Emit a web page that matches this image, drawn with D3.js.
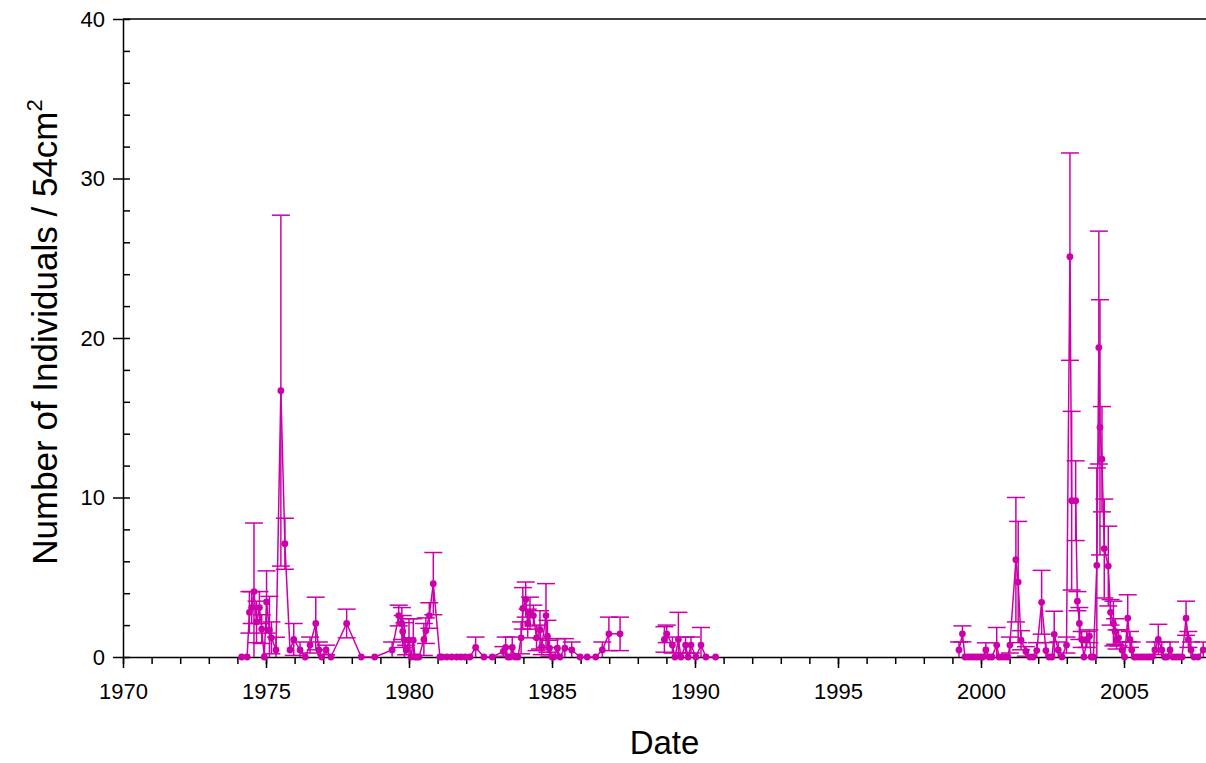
<!DOCTYPE html>
<html>
<head>
<meta charset="utf-8">
<script src="https://cdn.jsdelivr.net/npm/d3@7"></script>
<style>
  body { margin: 0; background: #fff; }
  svg { display: block; }
  text { font-family: "Liberation Sans", Arial, sans-serif; fill: #000; }
</style>
</head>
<body>
<svg id="chart" width="1206" height="763"></svg>
<script>
// Sampling dates (decimal years)
const dates = [
  1974.15, 1974.34, 1974.42, 1974.50, 1974.58, 1974.67, 1974.77, 1974.85, 1974.94, 1975.02,
  1975.12, 1975.19, 1975.35, 1975.52, 1975.66, 1975.84, 1975.97, 1976.19, 1976.37, 1976.54,
  1976.74, 1976.85, 1976.95, 1977.10, 1977.27, 1977.82, 1978.33, 1978.80, 1979.41, 1979.64,
  1979.75, 1979.78, 1979.84, 1979.90, 1980.00, 1980.07, 1980.15, 1980.21, 1980.28, 1980.35,
  1980.52, 1980.59, 1980.71, 1980.85, 1981.08, 1981.15, 1981.32, 1981.49, 1981.67, 1981.81,
  1981.96, 1982.13, 1982.33, 1982.62, 1982.91, 1983.30, 1983.38, 1983.46, 1983.53, 1983.61,
  1983.71, 1983.81, 1983.92, 1983.98, 1984.08, 1984.15, 1984.23, 1984.35, 1984.46, 1984.58,
  1984.64, 1984.79, 1984.84, 1984.91, 1985.00, 1985.07, 1985.19, 1985.28, 1985.45, 1985.69,
  1985.98, 1986.23, 1986.53, 1986.76, 1986.99, 1987.38, 1988.93, 1989.01, 1989.21, 1989.30,
  1989.42, 1989.51, 1989.67, 1989.76, 1989.86, 1990.03, 1990.21, 1990.38, 1990.72,
  1999.23, 1999.35, 1999.44, 1999.55, 1999.65, 1999.76, 1999.86, 1999.97, 2000.07, 2000.17,
  2000.28, 2000.38, 2000.55, 2000.63, 2000.73, 2000.84, 2000.94, 2001.01, 2001.22, 2001.30,
  2001.40, 2001.57, 2001.71, 2001.82, 2001.95, 2002.12, 2002.27, 2002.38, 2002.48, 2002.56,
  2002.70, 2002.83, 2002.99, 2003.11, 2003.17, 2003.31, 2003.37, 2003.44, 2003.52, 2003.60,
  2003.70, 2003.79, 2003.85, 2003.93, 2004.05, 2004.12, 2004.16, 2004.23, 2004.31, 2004.45,
  2004.53, 2004.63, 2004.69, 2004.74, 2004.81, 2004.93, 2005.02, 2005.13, 2005.21, 2005.27,
  2005.36, 2005.45, 2005.56, 2005.66, 2005.77, 2005.87, 2005.98, 2006.08, 2006.20, 2006.32,
  2006.42, 2006.50, 2006.61, 2006.71, 2006.82, 2006.92, 2007.03, 2007.17, 2007.25, 2007.34,
  2007.45, 2007.59, 2007.77
];

// Mean number of individuals per 54 cm²
const means = [
  0, 0, 2.8, 3.1, 4.1, 2.2, 3.1, 1.75, 0, 3.45,
  1.7, 1.2, 0.44, 16.7, 7.1, 0.44, 1.1, 0.44, 0, 0.75,
  2.1, 0.44, 0, 0.44, 0, 2.1, 0, 0, 0.44, 2.6,
  2.1, 1.6, 1.05, 0.44, 1.05, 0, 1.05, 0, 0, 0,
  1.1, 1.65, 2.6, 4.6, 0, 0, 0, 0, 0, 0,
  0, 0, 0.6, 0, 0, 0.35, 0.6, 0, 0, 0.6,
  0, 0, 1.2, 3.05, 3.6, 2.1, 2.75, 2.6, 1.2, 1.7,
  0.65, 2.6, 1.3, 0.55, 0, 0, 0.55, 0, 0.55, 0.44,
  0, 0, 0, 0.44, 1.45, 1.45, 1.1, 1.45, 0.75, 0,
  1.1, 0, 0.75, 0, 0.75, 0, 0.75, 0, 0,
  0.44, 1.45, 0, 0, 0, 0, 0, 0, 0, 0.44,
  0, 0, 0.75, 0, 0, 0, 0, 0.75, 6.1, 4.7,
  1.05, 0.35, 0, 0, 0.4, 3.43, 0.4, 0, 0, 1.42,
  0.44, 0, 0.75, 25.1, 9.8, 9.8, 3.5, 2.1, 1.1, 0,
  1.1, 1.3, 0, 0, 5.75, 19.4, 14.4, 12.4, 6.8, 5.7,
  2.8, 2.1, 1.6, 1.1, 1.2, 0.44, 0, 2.43, 1.1, 0.44,
  0, 0, 0, 0, 0, 0, 0, 0.44, 1.1, 0.44,
  0, 0, 0.44, 0, 0, 0, 0, 2.43, 1.1, 0.44,
  0, 0, 0.44
];

// Standard deviation of each mean
const errors = [
  0, 0, 1.3, 1.0, 4.3, 1.3, 1.0, 0.9, 0, 1.95,
  2.1, 1.0, 0.8, 11.0, 1.6, 0, 1.0, 0.5, 0, 0.5,
  1.65, 0.5, 0, 0.3, 0, 0.9, 0, 0, 0.5, 0.65,
  1.0, 1.0, 1.1, 0.3, 1.35, 0, 1.35, 0, 0, 0,
  1.0, 0.8, 0.8, 1.95, 0, 0, 0, 0, 0, 0,
  0, 0, 0.65, 0, 0, 0.3, 0.65, 0, 0, 0.65,
  0, 0, 1.0, 1.3, 1.1, 0.9, 1.0, 0.65, 0.8, 1.2,
  0.5, 2.0, 1.0, 0.5, 0, 0, 0.6, 0, 0.6, 0.5,
  0, 0, 0, 0.5, 1.05, 1.05, 0.8, 0.55, 0.5, 0,
  1.7, 0, 0.5, 0, 0.5, 0, 1.1, 0, 0,
  0.5, 0.5, 0, 0, 0, 0, 0, 0, 0, 0.45,
  0, 0, 1.1, 0, 0, 0, 0, 0.5, 3.9, 3.8,
  0.6, 0.3, 0, 0, 0.5, 2.0, 0.5, 0, 0, 1.45,
  0.5, 0, 0.5, 6.5, 5.6, 2.5, 0.6, 1.0, 0.5, 0,
  0.5, 0.4, 0, 0, 6.1, 7.3, 8.0, 3.3, 3.1, 2.5,
  0.8, 1.4, 0.8, 0.6, 0.5, 0.5, 0, 1.47, 0.5, 0.5,
  0, 0, 0, 0, 0, 0, 0, 0.5, 0.95, 0.5,
  0, 0, 0.5, 0, 0, 0, 0, 1.07, 0.5, 0.5,
  0, 0, 0.5
];

const xTickValues = [1970, 1975, 1980, 1985, 1990, 1995, 2000, 2005];
const yTickValues = [0, 10, 20, 30, 40];

const color = "#cc00aa";
const svg = d3.select("#chart");

const x = d3.scaleLinear().domain([1970, 2008]).range([123, 1209.8]);
const y = d3.scaleLinear().domain([0, 40]).range([657, 19]);

const points = dates.map((d, i) => ({ date: d, mean: means[i], err: errors[i] }));

// ----- axes -----
const axes = svg.append("g");

// minor x ticks every year
axes.append("g")
  .attr("transform", `translate(0,${y(0)})`)
  .call(d3.axisBottom(x).tickValues(d3.range(1970, 2008)).tickSize(7).tickFormat(""))
  .call(g => g.select(".domain").remove())
  .call(g => g.selectAll("line").attr("stroke-width", 1.5));

// major x ticks with labels
axes.append("g")
  .attr("transform", `translate(0,${y(0)})`)
  .call(d3.axisBottom(x).tickValues(xTickValues).tickSize(11).tickSizeOuter(0).tickPadding(15).tickFormat(d3.format("d")))
  .call(g => g.select(".domain").attr("stroke-width", 1.5))
  .call(g => g.selectAll("line").attr("stroke-width", 1.5))
  .call(g => g.selectAll("text").attr("font-size", 22).attr("fill", "#000"));

// minor y ticks every 2 units, pointing into the plot
axes.append("g")
  .attr("transform", `translate(${x(1970)},0)`)
  .call(d3.axisLeft(y).tickValues(d3.range(0, 41, 2)).tickSize(-7).tickFormat(""))
  .call(g => g.select(".domain").remove())
  .call(g => g.selectAll("line").attr("stroke-width", 1.5));

// major y ticks with labels
axes.append("g")
  .attr("transform", `translate(${x(1970)},0)`)
  .call(d3.axisLeft(y).tickValues(yTickValues).tickSize(10).tickSizeOuter(0).tickPadding(8))
  .call(g => g.select(".domain").attr("stroke-width", 1.5))
  .call(g => g.selectAll("line").attr("stroke-width", 1.5))
  .call(g => g.selectAll("text").attr("font-size", 22).attr("fill", "#000"));

// top frame line
axes.append("line")
  .attr("x1", x(1970)).attr("x2", x(2008))
  .attr("y1", y(40)).attr("y2", y(40))
  .attr("stroke", "#000").attr("stroke-width", 1.5);

// axis titles
svg.append("text")
  .attr("x", (x(1970) + 1206) / 2).attr("y", 754)
  .attr("text-anchor", "middle")
  .attr("font-size", 33)
  .text("Date");

const yTitle = svg.append("text")
  .attr("transform", `translate(57,332) rotate(-90)`)
  .attr("text-anchor", "middle")
  .attr("font-size", 35);
yTitle.append("tspan").text("Number of Individuals / 54cm");
yTitle.append("tspan").attr("dy", -15).attr("font-size", 22).text("2");

// ----- data -----
const plot = svg.append("g");

// error bars (mean ± sd, clipped at zero)
const capHalf = 9;
const bars = plot.append("g").attr("stroke", color).attr("stroke-width", 1.5).attr("fill", "none");
points.filter(p => p.err > 0).forEach(p => {
  const cx = x(p.date);
  const top = p.mean + p.err;
  const bottom = Math.max(0, p.mean - p.err);
  bars.append("line").attr("x1", cx).attr("x2", cx).attr("y1", y(top)).attr("y2", y(bottom));
  bars.append("line").attr("x1", cx - capHalf).attr("x2", cx + capHalf).attr("y1", y(top)).attr("y2", y(top));
  if (p.mean - p.err > 0) {
    bars.append("line").attr("x1", cx - capHalf).attr("x2", cx + capHalf).attr("y1", y(bottom)).attr("y2", y(bottom));
  }
});

// connecting line, broken wherever sampling paused for more than a year
const segments = [];
let current = [];
points.forEach((p, i) => {
  if (i > 0 && p.date - points[i - 1].date > 1) { segments.push(current); current = []; }
  current.push(p);
});
segments.push(current);

const line = d3.line().x(p => x(p.date)).y(p => y(p.mean));
plot.append("g").selectAll("path")
  .data(segments)
  .join("path")
  .attr("d", line)
  .attr("fill", "none")
  .attr("stroke", color)
  .attr("stroke-width", 1.5)
  .attr("stroke-linejoin", "round");

plot.append("g").selectAll("circle")
  .data(points)
  .join("circle")
  .attr("cx", p => x(p.date))
  .attr("cy", p => y(p.mean))
  .attr("r", 3.4)
  .attr("fill", color);
</script>
</body>
</html>
